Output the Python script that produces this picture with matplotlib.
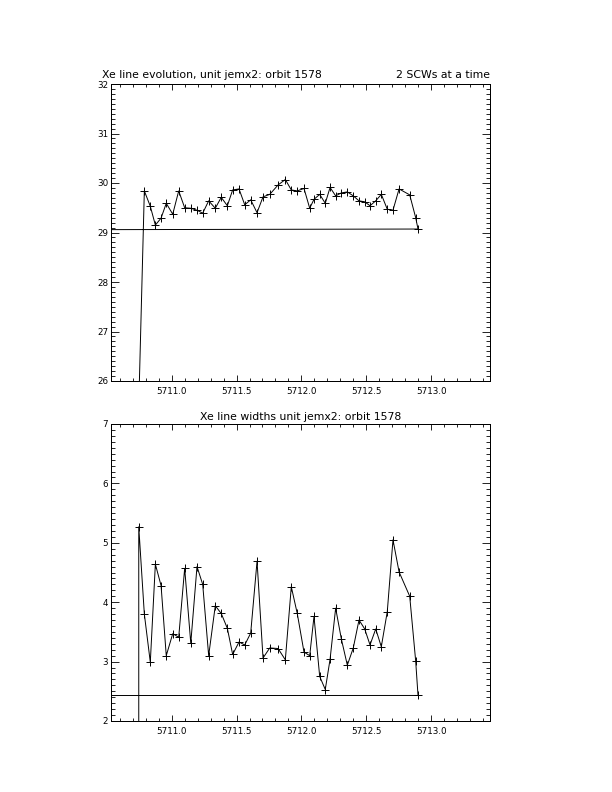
import numpy as np
import matplotlib.pyplot as plt
from matplotlib.ticker import MultipleLocator, FormatStrFormatter

# time of each group of 2 science windows (IJD)
time = [5710.746, 5710.789, 5710.835, 5710.874, 5710.918, 5710.958, 5711.008, 5711.054,
        5711.100, 5711.147, 5711.195, 5711.239, 5711.285, 5711.336, 5711.382, 5711.429,
        5711.470, 5711.519, 5711.563, 5711.609, 5711.658, 5711.704, 5711.756, 5711.820,
        5711.876, 5711.922, 5711.968, 5712.020, 5712.064, 5712.097, 5712.141, 5712.184,
        5712.221, 5712.264, 5712.308, 5712.354, 5712.400, 5712.444, 5712.488, 5712.529,
        5712.573, 5712.616, 5712.662, 5712.706, 5712.753, 5712.835, 5712.881, 5712.899]

# Xe line energy (first fit falls below the plotted range)
energy = [25.50, 29.84, 29.53, 29.15, 29.29, 29.59, 29.37, 29.84,
          29.50, 29.49, 29.45, 29.39, 29.64, 29.49, 29.71, 29.54,
          29.86, 29.88, 29.56, 29.66, 29.40, 29.72, 29.77, 29.96,
          30.07, 29.86, 29.84, 29.89, 29.49, 29.67, 29.77, 29.59,
          29.91, 29.74, 29.80, 29.82, 29.74, 29.64, 29.62, 29.54,
          29.64, 29.77, 29.47, 29.45, 29.88, 29.76, 29.30, 29.07]

# Xe line width
width = [5.27, 3.80, 2.99, 4.64, 4.28, 3.10, 3.47, 3.41,
         4.57, 3.31, 4.60, 4.30, 3.10, 3.94, 3.81, 3.56,
         3.12, 3.33, 3.28, 3.48, 4.69, 3.06, 3.23, 3.22,
         3.03, 4.26, 3.81, 3.16, 3.10, 3.76, 2.75, 2.53,
         3.04, 3.90, 3.38, 2.94, 3.23, 3.70, 3.55, 3.28,
         3.55, 3.25, 3.84, 5.05, 4.51, 4.10, 3.01, 2.43]

# the result arrays are zero padded at the end, so the line runs back to (0, 0);
# the width array also starts from a zero entry at the first time
t_e = np.r_[time, 0.0]
y_e = np.r_[energy, 0.0]
t_w = np.r_[time[0], time, 0.0]
y_w = np.r_[0.0, width, 0.0]

W, H = 612, 792
fig = plt.figure(figsize=(W / 100, H / 100), dpi=100)
fig.patch.set_facecolor('white')


def make_axes(left, top, right, bottom):
    return fig.add_axes([left / W, 1 - bottom / H, (right - left) / W, (bottom - top) / H])


def style(ax, ylim):
    ax.set_xlim(5710.532, 5713.454)
    ax.set_ylim(*ylim)
    ax.xaxis.set_major_locator(MultipleLocator(0.5))
    ax.xaxis.set_minor_locator(MultipleLocator(0.1))
    ax.yaxis.set_major_locator(MultipleLocator(1))
    ax.yaxis.set_minor_locator(MultipleLocator(0.1))
    ax.xaxis.set_major_formatter(FormatStrFormatter('%.1f'))
    ax.yaxis.set_major_formatter(FormatStrFormatter('%d'))
    ax.tick_params(which='both', direction='in', top=True, right=True,
                   width=0.6, labelsize=6.3, colors='black')
    ax.tick_params(axis='x', which='major', length=4.3, pad=4)
    ax.tick_params(axis='x', which='minor', length=2.2)
    ax.tick_params(axis='y', which='major', length=5.5, pad=2)
    ax.tick_params(axis='y', which='minor', length=2.7)
    for s in ax.spines.values():
        s.set_linewidth(0.72)


ax1 = make_axes(111, 84, 490, 381)
ax1.plot(t_e, y_e, color='black', lw=0.7, marker='+', ms=5.5, mew=0.7)
style(ax1, (26, 32))

ax2 = make_axes(111, 424, 490, 721)
ax2.plot(t_w, y_w, color='black', lw=0.7, marker='+', ms=5.5, mew=0.7)
style(ax2, (2, 7))

fig.text(102 / W, 1 - 78.5 / H, 'Xe line evolution, unit jemx2: orbit 1578',
         fontsize=7.8, ha='left', va='baseline')
fig.text(490 / W, 1 - 78.5 / H, '2 SCWs at a time',
         fontsize=7.8, ha='right', va='baseline')
fig.text(300.5 / W, 1 - 420 / H, 'Xe line widths unit jemx2: orbit 1578',
         fontsize=7.8, ha='center', va='baseline')

fig.savefig('out.png', dpi=100)
